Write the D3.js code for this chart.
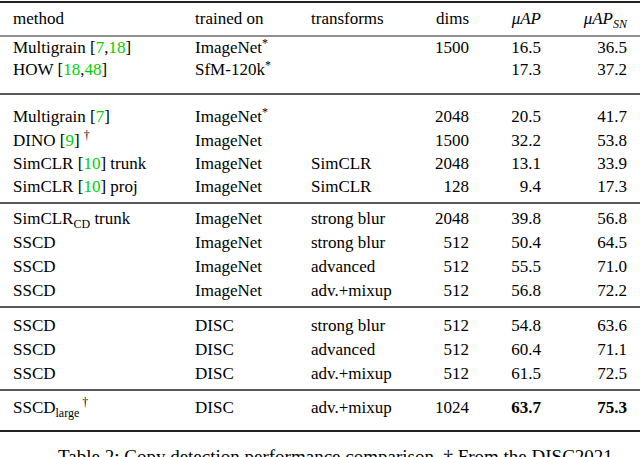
<!DOCTYPE html>
<html><head><meta charset="utf-8">
<script src="https://cdn.jsdelivr.net/npm/d3@7"></script>
<style>body{margin:0;background:#fff} svg text{font-family:"Liberation Serif","Times New Roman",serif}</style></head>
<body><svg id="t" width="640" height="457"></svg>
<script>
const methods=[["Multigrain [","7",",","18","]"],["HOW [","18",",","48","]"],["Multigrain [","7","]"],["DINO [","9","] †"],["SimCLR [","10","] trunk"],["SimCLR [","10","] proj"],["SimCLR_CD trunk"],["SSCD"],["SSCD"],["SSCD"],["SSCD"],["SSCD"],["SSCD"],["SSCD_large †"]];
const trainedOn=["ImageNet*","SfM-120k*","ImageNet*","ImageNet","ImageNet","ImageNet","ImageNet","ImageNet","ImageNet","ImageNet","DISC","DISC","DISC","DISC"];
const transforms=["","","","","SimCLR","SimCLR","strong blur","strong blur","advanced","adv.+mixup","strong blur","advanced","adv.+mixup","adv.+mixup"];
const dims=["1500","","2048","1500","2048","128","2048","512","512","512","512","512","512","1024"];
const muAP=["16.5","17.3","20.5","32.2","13.1","9.4","39.8","50.4","55.5","56.8","54.8","60.4","61.5","63.7"];
const muAPSN=["36.5","37.2","41.7","53.8","33.9","17.3","56.8","64.5","71.0","72.2","63.6","71.1","72.5","75.3"];
const rowY=[47,69,116,140,163,186,218,242,266,290,325,349,373,407];
const rules=[[2,2],[36,1],[94,1.5],[203,1.5],[307,1.5],[390,1.5],[431,2]];

const svg=d3.select("#t").attr("font-size",17).attr("fill","#000");
svg.selectAll("line").data(rules).join("line").attr("x1",0).attr("x2",640)
 .attr("y1",d=>d[0]).attr("y2",d=>d[0]).attr("stroke","#222").attr("stroke-width",d=>d[1]);
const base=6;
const H=18+base;
svg.append("text").attr("x",13).attr("y",H).text("method");
svg.append("text").attr("x",195).attr("y",H).text("trained on");
svg.append("text").attr("x",311).attr("y",H).text("transforms");
svg.append("text").attr("x",469).attr("y",H).attr("text-anchor","end").text("dims");
svg.append("text").attr("x",541).attr("y",H).attr("text-anchor","end").attr("font-style","italic").text("μAP");
const sn=svg.append("text").attr("x",627).attr("y",H).attr("text-anchor","end").attr("font-style","italic");
sn.append("tspan").text("μAP");sn.append("tspan").attr("font-size",12).attr("dy",4).text("SN");

methods.forEach((m,i)=>{
  const y=rowY[i]+base;
  const t=svg.append("text").attr("x",13).attr("y",y);
  m.forEach((s,j)=>{
    if(s.includes("_")){
      const [a,rest]=s.split("_");const [sub,...tail]=rest.split(" ");
      t.append("tspan").text(a);
      t.append("tspan").attr("font-size",12).attr("dy",4).text(sub);
      const tl=tail.join(" ");
      if(tl.startsWith("†")) t.append("tspan").attr("dy",-11).attr("font-size",12).text(" †");
      else t.append("tspan").attr("dy",-4).text(" "+tl);
    } else if(s.endsWith("†")){
      t.append("tspan").text(s.slice(0,-1));
      t.append("tspan").attr("dy",-7).attr("font-size",12).text("†");
    } else t.append("tspan").attr("fill",j%2===1?"#00d000":"#000").text(s);
  });
  const tr=svg.append("text").attr("x",195).attr("y",y);
  const v=trainedOn[i];
  if(v.endsWith("*")){tr.append("tspan").text(v.slice(0,-1));tr.append("tspan").attr("dy",-6).attr("font-size",12).text("*");}
  else tr.text(v);
  svg.append("text").attr("x",311).attr("y",y).text(transforms[i]);
  svg.append("text").attr("x",469).attr("y",y).attr("text-anchor","end").text(dims[i]);
  const last=i===methods.length-1;
  svg.append("text").attr("x",541).attr("y",y).attr("text-anchor","end").attr("font-weight",last?"bold":null).text(muAP[i]);
  svg.append("text").attr("x",627).attr("y",y).attr("text-anchor","end").attr("font-weight",last?"bold":null).text(muAPSN[i]);
});
svg.append("text").attr("x",58).attr("y",463).attr("font-size",19).text("Table 2: Copy detection performance comparison. † From the DISC2021");
</script></body></html>
